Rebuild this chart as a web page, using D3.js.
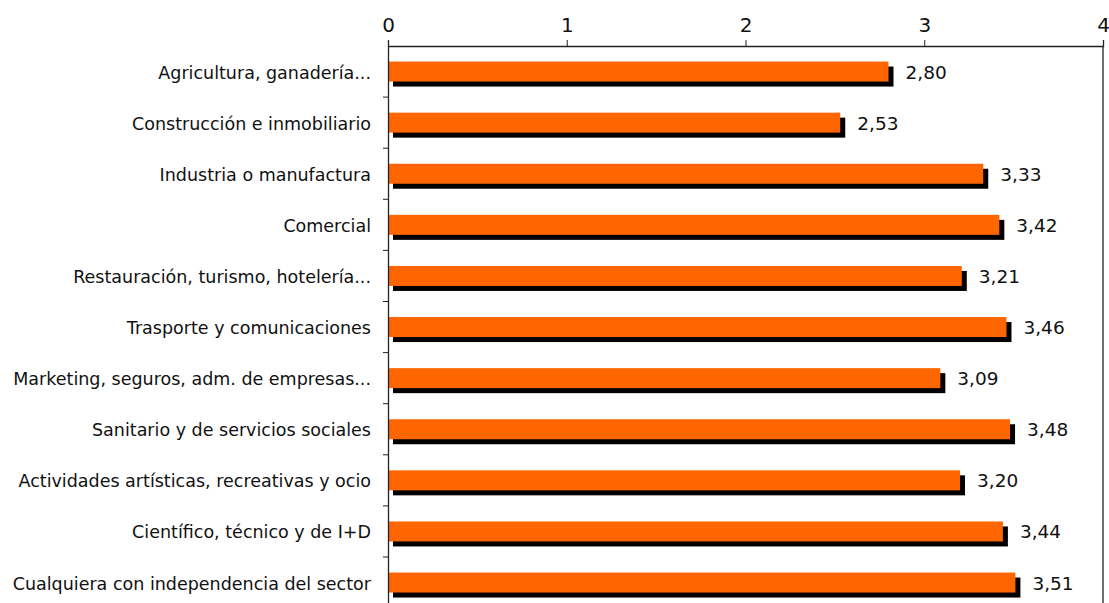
<!DOCTYPE html>
<html><head><meta charset="utf-8">
<script src="https://cdn.jsdelivr.net/npm/d3@7"></script>
<style>body{margin:0;background:#fff}svg{display:block}text{font-family:"DejaVu Sans",sans-serif;fill:#111}</style>
</head><body><svg id="c" width="1109" height="603"></svg>
<script>
const categories = ["Agricultura, ganadería...","Construcción e inmobiliario","Industria o manufactura","Comercial","Restauración, turismo, hotelería...","Trasporte y comunicaciones","Marketing, seguros, adm. de empresas...","Sanitario y de servicios sociales","Actividades artísticas, recreativas y ocio","Científico, técnico y de I+D","Cualquiera con independencia del sector"];
const values = [2.80,2.53,3.33,3.42,3.21,3.46,3.09,3.48,3.20,3.44,3.51];
const xTicks = [0,1,2,3,4];

const svg = d3.select("#c");
const mLeft = 388, mRight = 1103, mTop = 46, band = 51.1;
const x = d3.scaleLinear().domain([0,4]).range([mLeft,mRight]);
const y = d3.scaleBand().domain(categories).range([mTop, mTop + band*categories.length]).paddingInner(0).paddingOuter(0);
const fmt = v => v.toFixed(2).replace(".", ",");
const barH = 20;
const FONT = '"DejaVu Sans",sans-serif';

svg.append("line").attr("x1",mRight).attr("x2",mRight).attr("y1",mTop).attr("y2",mTop+band*categories.length).attr("stroke","#222").attr("stroke-width",1.3);

const g = svg.append("g");
g.selectAll("rect.sh").data(values).join("rect").attr("class","sh")
 .attr("x", x(0)+5).attr("y",(d,i)=>y(categories[i])+y.bandwidth()/2-barH/2+5)
 .attr("width", d=>x(d)-x(0)).attr("height",barH).attr("fill","#000");
g.selectAll("rect.bar").data(values).join("rect").attr("class","bar")
 .attr("x", x(0)).attr("y",(d,i)=>y(categories[i])+y.bandwidth()/2-barH/2)
 .attr("width", d=>x(d)-x(0)).attr("height",barH).attr("fill","#FF6600");
g.selectAll("text.val").data(values).join("text").attr("class","val")
 .attr("x", d=>x(d)+17).attr("y",(d,i)=>y(categories[i])+y.bandwidth()/2+7)
 .attr("font-size",18.5).text(d=>fmt(d));

const xa = svg.append("g").attr("transform",`translate(0,${mTop})`)
 .call(d3.axisTop(x).tickValues(xTicks).tickSize(6).tickFormat(d=>d));
xa.select(".domain").attr("stroke","#222").attr("stroke-width",1.3);
xa.selectAll(".tick line").attr("stroke","#222");
xa.selectAll(".tick text").attr("font-size",20).attr("dy","-0.25em").style("font-family",FONT).attr("fill","#111");

const ya = svg.append("g").attr("transform",`translate(${mLeft},0)`)
 .call(d3.axisLeft(y).tickSize(0).tickPadding(17));
ya.select(".domain").attr("stroke","#222").attr("stroke-width",1.3);
ya.selectAll(".tick text").attr("font-size",17.5).attr("dy","0.4em").style("font-family",FONT).attr("fill","#111");
svg.append("g").selectAll("line").data(d3.range(1,categories.length+1)).join("line")
 .attr("x1",mLeft-5).attr("x2",mLeft).attr("y1",i=>mTop+band*i).attr("y2",i=>mTop+band*i).attr("stroke","#222");
</script></body></html>
